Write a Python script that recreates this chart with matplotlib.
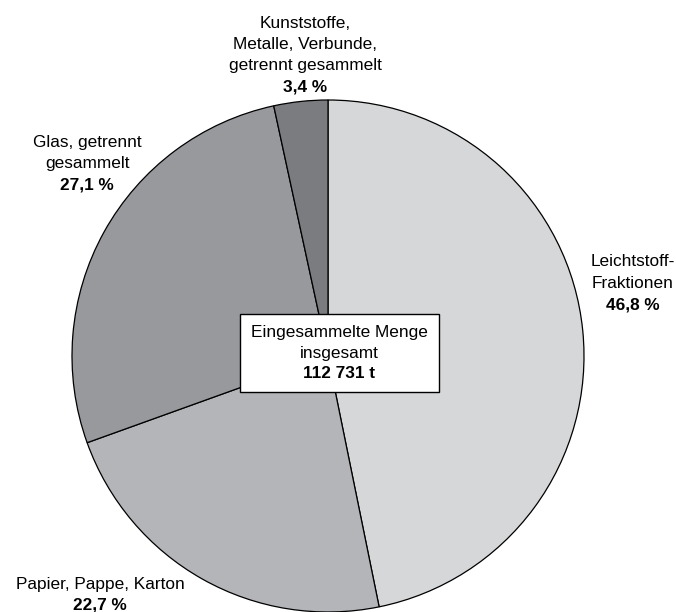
import matplotlib.pyplot as plt
from matplotlib.patches import Rectangle

plt.rcParams['font.family'] = ['Liberation Sans', 'DejaVu Sans']

# Anteile der eingesammelten Mengen
categories = ['Leichtstoff-\nFraktionen', 'Papier, Pappe, Karton',
              'Glas, getrennt\ngesammelt',
              'Kunststoffe,\nMetalle, Verbunde,\ngetrennt gesammelt']
shares = [46.8, 22.7, 27.1, 3.4]
share_labels = ['46,8 %', '22,7 %', '27,1 %', '3,4 %']
colors = ['#d6d7d9', '#b3b5b8', '#97999d', '#7b7c80']
total_text = 'Eingesammelte Menge\ninsgesamt'
total_value = '112 731 t'

W, H = 676, 612
cx, cy, r = 328, 356, 256

fig = plt.figure(figsize=(W / 100, H / 100), dpi=100)
ax = fig.add_axes([0, 0, 1, 1])
ax.pie(shares, colors=colors, startangle=90, counterclock=False,
       wedgeprops=dict(edgecolor='black', linewidth=0.9))
ax.set_xlim(-cx / r, (W - cx) / r)
ax.set_ylim(-(H - cy) / r, cy / r)
ax.set_aspect('equal')
ax.axis('off')


def px(x, y):
    return (x - cx) / r, (cy - y) / r


fs = 12.4
line_h = 21.3


def block(lines, x, y0, bold_last=True):
    for i, line in enumerate(lines):
        bold = bold_last and i == len(lines) - 1
        ax.text(*px(x, y0 + i * line_h), line, ha='center', va='center',
                fontsize=fs, fontweight='bold' if bold else 'normal')


# Beschriftungen: (Mitte x, Mitte erste Zeile y) in Pixel
label_pos = [(633, 262), (100, 584), (87, 142), (305, 23)]
for cat, lab, (x, y) in zip(categories, share_labels, label_pos):
    block(cat.split('\n') + [lab], x, y)

# Kasten in der Mitte
x0, y0 = px(240, 392)
x1, y1 = px(439, 314)
ax.add_patch(Rectangle((x0, y0), x1 - x0, y1 - y0, facecolor='white',
                       edgecolor='black', linewidth=1.0, zorder=3))
for i, line in enumerate(total_text.split('\n') + [total_value]):
    t = ax.text(*px(339, 333 + i * 20.5), line, ha='center', va='center',
                fontsize=fs, fontweight='bold' if i == 2 else 'normal')
    t.set_zorder(4)

fig.savefig('out.png', dpi=100)
